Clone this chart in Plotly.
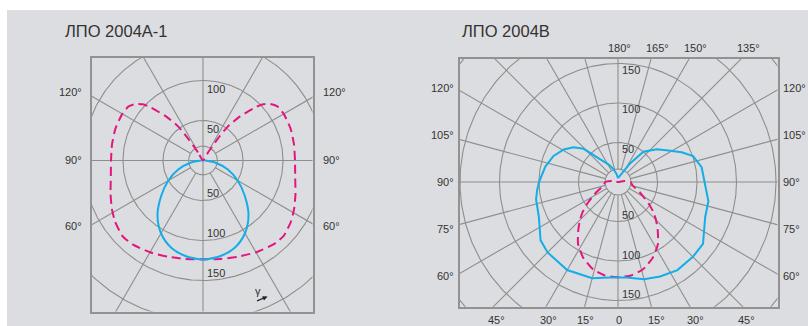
import numpy as np
import plotly.graph_objects as go

W, H = 808, 326

# ---------------- data (candela per 1000 lm vs gamma, degrees from nadir) ----------------
a1_title = "ЛПО 2004А-1"
b_title = "ЛПО 2004В"

# ЛПО 2004А-1, solid (cyan) curve, symmetric
a1_blue_gamma = [0, 10, 20, 30, 40, 50, 60, 70, 80, 90]
a1_blue_cd = [124, 121.5, 116, 105, 88.5, 68, 50, 33, 16, 2]

# ЛПО 2004А-1, dashed (magenta) curve, symmetric
a1_mag_gamma = [0, 10, 20, 30, 40, 47, 55, 62, 70, 80, 90, 100, 110, 120, 126, 130, 133, 135, 140, 144, 146, 148, 150]
a1_mag_cd = [123.5, 125, 128, 132.5, 137, 138, 134, 129, 123, 117, 115, 115.5, 116.5, 116.5, 115, 110, 103, 95, 72, 52, 32, 12, 0]

# ЛПО 2004В, solid (cyan) curve, left and right halves
b_blue_gamma_left = [0, 5, 15, 30, 45, 53, 66, 78, 84, 90, 102, 112, 121, 128, 134, 142, 152, 161, 170, 180]
b_blue_cd_left = [121, 121.5, 126, 128.7, 126, 122.7, 109.6, 106, 103, 100, 94, 88, 80, 71.5, 60.5, 36.4, 25, 17, 10, 5]
b_blue_gamma_right = [0, 5, 15, 24, 34, 45, 54, 68, 78, 90, 100, 109, 115, 122, 130, 140, 147, 152, 165, 180]
b_blue_cd_right = [121, 121.5, 127.5, 131, 134.5, 134, 133, 119, 117, 110, 107.5, 100.5, 89, 75, 64.5, 50, 28, 16, 8, 5]

# ЛПО 2004В, dashed (magenta) curve, symmetric
b_mag_gamma = [0, 8, 16, 25, 33, 40, 45, 50, 55, 60, 65, 72, 80, 90, 100, 115]
b_mag_cd = [120.5, 119.5, 115, 105, 93, 78, 68, 58, 47, 37, 30, 22, 18, 16, 8, 0]

# grid / tick labels
a1_rings = [50, 100, 150, 200]
b_rings = [50, 100, 150, 200, 250]
a1_spoke_step = 30
b_spoke_step = 15
a1_side_labels = ["120°", "90°", "60°"]
b_side_labels = ["120°", "105°", "90°", "75°", "60°"]
b_top_labels = ["180°", "165°", "150°", "135°"]
b_bottom_labels = ["45°", "30°", "15°", "0", "15°", "30°", "45°"]
a1_ring_labels_top = ["100", "50"]
a1_ring_labels_bottom = ["50", "100", "150"]
b_ring_labels_top = ["150", "100", "50"]
b_ring_labels_bottom = ["50", "100", "150"]

# ---------------- styling ----------------
BG = "#dcdde0"
GRID = "#8e8e8e"
FRAME = "#929292"
CYAN = "#13ade8"
MAGENTA = "#e3157f"
TXT = "#333333"
FONT = "Liberation Sans, Arial, sans-serif"


def polar_xy(gamma, r, side):
    g = np.radians(np.asarray(gamma, float))
    r = np.asarray(r, float)
    return side * r * np.sin(g), -r * np.cos(g)


def closed_curve(gl, rl, gr, rr):
    xl, yl = polar_xy(gl, rl, -1)
    xr, yr = polar_xy(gr, rr, 1)
    return np.concatenate([xl[::-1], xr]), np.concatenate([yl[::-1], yr])


def ring_xy(radii, inner):
    t = np.linspace(0, 2 * np.pi, 361)
    xs, ys = [], []
    for rr in list(radii) + [inner]:
        xs += list(rr * np.cos(t)) + [None]
        ys += list(rr * np.sin(t)) + [None]
    return xs, ys


def spoke_xy(step, inner, full_axes):
    xs, ys = [], []
    for a in range(0, 360, step):
        t = np.radians(a)
        r0 = 0 if (full_axes and a % 90 == 0) else inner
        xs += [r0 * np.cos(t), 400 * np.cos(t), None]
        ys += [r0 * np.sin(t), 400 * np.sin(t), None]
    return xs, ys


fig = go.Figure()

# panel geometry (pixels): frame box, centre, pixels per unit
P1 = dict(x0=92, x1=312.5, y0=57.5, y1=311.5, cx=203, cy=160.5, k=0.8, inner=18)
P2 = dict(x0=459.5, x1=777.5, y0=58.5, y1=306.7, cx=618, cy=182, k=0.79, inner=16.5)


def axis_pair(p):
    xr = [(p["x0"] - p["cx"]) / p["k"], (p["x1"] - p["cx"]) / p["k"]]
    yr = [(p["cy"] - p["y1"]) / p["k"], (p["cy"] - p["y0"]) / p["k"]]
    xd = [p["x0"] / W, p["x1"] / W]
    yd = [1 - p["y1"] / H, 1 - p["y0"] / H]
    common = dict(showline=True, mirror=True, linecolor=FRAME, linewidth=2,
                  showgrid=False, zeroline=False, showticklabels=False, ticks="",
                  fixedrange=True)
    return dict(domain=xd, range=xr, **common), dict(domain=yd, range=yr, **common)


for i, (p, rings, step, full) in enumerate([(P1, a1_rings, a1_spoke_step, True),
                                             (P2, b_rings, b_spoke_step, False)]):
    xa = "x" if i == 0 else "x2"
    ya = "y" if i == 0 else "y2"
    rx, ry = ring_xy(rings, p["inner"])
    fig.add_trace(go.Scatter(x=rx, y=ry, mode="lines", line=dict(color=GRID, width=1.1),
                             hoverinfo="skip", showlegend=False, xaxis=xa, yaxis=ya))
    sx, sy = spoke_xy(step, p["inner"], full)
    fig.add_trace(go.Scatter(x=sx, y=sy, mode="lines", line=dict(color=GRID, width=1.1),
                             hoverinfo="skip", showlegend=False, xaxis=xa, yaxis=ya))

# curves, panel 1
x, y = closed_curve(a1_mag_gamma, a1_mag_cd, a1_mag_gamma, a1_mag_cd)
fig.add_trace(go.Scatter(x=x, y=y, mode="lines", line=dict(color=MAGENTA, width=2, dash="9px,5px", shape="spline", smoothing=0.5),
                         showlegend=False, xaxis="x", yaxis="y"))
x, y = closed_curve(a1_blue_gamma, a1_blue_cd, a1_blue_gamma, a1_blue_cd)
fig.add_trace(go.Scatter(x=x, y=y, mode="lines", line=dict(color=CYAN, width=2, shape="spline", smoothing=1.0),
                         showlegend=False, xaxis="x", yaxis="y"))

# curves, panel 2
x, y = closed_curve(b_mag_gamma, b_mag_cd, b_mag_gamma, b_mag_cd)
fig.add_trace(go.Scatter(x=x, y=y, mode="lines", line=dict(color=MAGENTA, width=2, dash="9px,5px", shape="spline", smoothing=0.5),
                         showlegend=False, xaxis="x2", yaxis="y2"))
x, y = closed_curve(b_blue_gamma_left, b_blue_cd_left, b_blue_gamma_right, b_blue_cd_right)
fig.add_trace(go.Scatter(x=x, y=y, mode="lines", line=dict(color=CYAN, width=2),
                         showlegend=False, xaxis="x2", yaxis="y2"))

xa1, ya1 = axis_pair(P1)
xa2, ya2 = axis_pair(P2)
ya1["anchor"] = "x"
xa1["anchor"] = "y"
xa2["anchor"] = "y2"
ya2["anchor"] = "x2"

ann = []


def text_px(t, px, py, size=11, xanchor="center", color=TXT):
    ann.append(dict(text=t, x=px / W, y=1 - py / H, xref="paper", yref="paper",
                    xanchor=xanchor, yanchor="middle", showarrow=False,
                    font=dict(size=size, color=color, family=FONT)))


# titles
text_px(a1_title, 63, 31, size=16.5, xanchor="left")
text_px(b_title, 460, 31, size=16.5, xanchor="left")

# panel 1 side labels
for t, py in zip(a1_side_labels, [92, 160, 226]):
    text_px(t, 84, py, xanchor="right")
    text_px(t, 321, py, xanchor="left")

# panel 2 side labels
for t, py in zip(b_side_labels, [88, 135, 182, 229, 276]):
    text_px(t, 455.5, py, xanchor="right")
    text_px(t, 781, py, xanchor="left")
for t, px in zip(b_top_labels, [619.5, 657, 695.5, 748]):
    text_px(t, px, 48)
for t, px in zip(b_bottom_labels, [496, 548.5, 585.5, 619, 656.7, 695.5, 746.7]):
    text_px(t, px, 320)


# ring value labels (inside each ring, right of vertical axis)
def ring_labels(p, top, bottom, off):
    for t in top:
        r = float(t)
        text_px(t, p["cx"] + 2, p["cy"] - (r - off) * p["k"], xanchor="left")
    for t in bottom:
        r = float(t)
        text_px(t, p["cx"] + 2, p["cy"] + (r - off) * p["k"], xanchor="left")


ring_labels(P1, a1_ring_labels_top, a1_ring_labels_bottom, 10)
ring_labels(P2, b_ring_labels_top, b_ring_labels_bottom, 8)

# gamma symbol with arrow
text_px("γ", 258, 291, size=11)
ann.append(dict(text="", x=267.5 / W, y=1 - 296.5 / H, xref="paper", yref="paper",
                ax=-12, ay=5, showarrow=True, arrowhead=2, arrowsize=0.8, arrowwidth=1.2,
                arrowcolor="#222222"))

fig.update_layout(
    width=W, height=H, autosize=False,
    margin=dict(l=0, r=0, t=0, b=0),
    paper_bgcolor="white", plot_bgcolor=BG,
    xaxis=xa1, yaxis=ya1, xaxis2=xa2, yaxis2=ya2,
    shapes=[dict(type="rect", xref="paper", yref="paper", x0=7 / W, x1=1, y0=0, y1=1 - 10 / H,
                 fillcolor=BG, line=dict(width=0), layer="below")],
    annotations=ann,
    showlegend=False,
)

fig.write_html("out.html", config={"displayModeBar": False},
               post_script="document.body.style.margin='0px';document.body.style.overflow='hidden';")
